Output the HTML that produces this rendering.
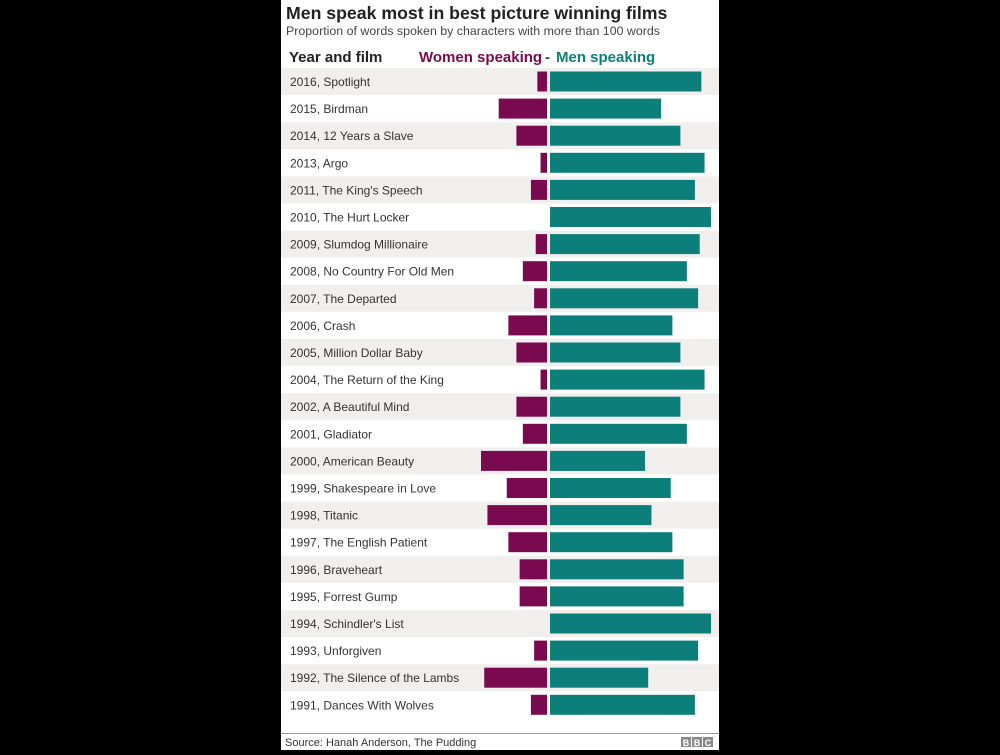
<!DOCTYPE html>
<html><head><meta charset="utf-8"><style>
body{margin:0;background:#000;width:1000px;height:750px;overflow:hidden;font-family:"Liberation Sans",sans-serif}
#panel{position:absolute;left:281px;top:0;width:438px;height:750px;background:#fff}
</style></head><body>
<div id="panel">
<svg id="chart" width="438" height="750"></svg>
</div>
<script>
const films=["2016, Spotlight","2015, Birdman","2014, 12 Years a Slave","2013, Argo","2011, The King's Speech","2010, The Hurt Locker","2009, Slumdog Millionaire","2008, No Country For Old Men","2007, The Departed","2006, Crash","2005, Million Dollar Baby","2004, The Return of the King","2002, A Beautiful Mind","2001, Gladiator","2000, American Beauty","1999, Shakespeare in Love","1998, Titanic","1997, The English Patient","1996, Braveheart","1995, Forrest Gump","1994, Schindler's List","1993, Unforgiven","1992, The Silence of the Lambs","1991, Dances With Wolves"];
const women=[6,30,19,4,10,0,7,15,8,24,19,4,19,15,41,25,37,24,17,17,0,8,39,10];
const men=[94,69,81,96,90,100,93,85,92,76,81,96,81,85,59,75,63,76,83,83,100,92,61,90];
const svg=document.getElementById('chart');
const NS='http://www.w3.org/2000/svg';
const OX=281, zeroW=547-OX, zeroM=550-OX, scale=1.61;
const rowY=i=>68+i*27.1;
function mk(tag,attrs,txt){const e=document.createElementNS(NS,tag);for(const k in attrs)e.setAttribute(k,attrs[k]);if(txt!==undefined)e.textContent=txt;svg.appendChild(e);return e;}
let t=mk('text',{x:5,y:19,'font-size':17.7,'font-weight':'bold',fill:'#222'},'Men speak most in best picture winning films');


t=mk('text',{x:5,y:35,'font-size':12.4,fill:'#444'},'Proportion of words spoken by characters with more than 100 words');


t=mk('text',{x:8,y:62,'font-size':15,'font-weight':'bold',fill:'#222'},'Year and film');


t=mk('text',{x:138,y:62,'font-size':15,'font-weight':'bold',fill:'#7a0a4f'},'Women speaking');


t=mk('text',{x:264,y:62,'font-size':15,'font-weight':'bold',fill:'#444'},'-');
t=mk('text',{x:275,y:62,'font-size':15,'font-weight':'bold',fill:'#0d7f7a'},'Men speaking');


films.forEach((f,i)=>{
  const y=rowY(i);
  if(i%2===0){const b=mk('rect',{x:0,y:y,width:438,height:27.1,fill:'#f1eeee'});
    
    }
  const l=mk('text',{x:9,y:y+18,'font-size':12,fill:'#333'},f);
  
  
  const ww=women[i]*scale;
  if(ww>0){const r=mk('rect',{x:zeroW-ww,y:y+3.5,width:ww,height:20,fill:'#7a0a4f'});
    
    }
  const r2=mk('rect',{x:zeroM,y:y+3.5,width:men[i]*scale,height:20,fill:'#0d7f7a'});
  
  
});
mk('line',{x1:0,x2:438,y1:733.5,y2:733.5,stroke:'#999','stroke-width':1});
t=mk('text',{x:4,y:746,'font-size':11,fill:'#333'},'Source: Hanah Anderson, The Pudding');


['B','B','C'].forEach((c,k)=>{
  const bx=mk('rect',{x:400+k*11,y:737,width:10,height:10,fill:'#888'});
  
  
  mk('text',{x:405+k*11,y:746,'font-size':9,'font-weight':'bold',fill:'#fff','text-anchor':'middle'},c);
});
</script>
</body></html>
